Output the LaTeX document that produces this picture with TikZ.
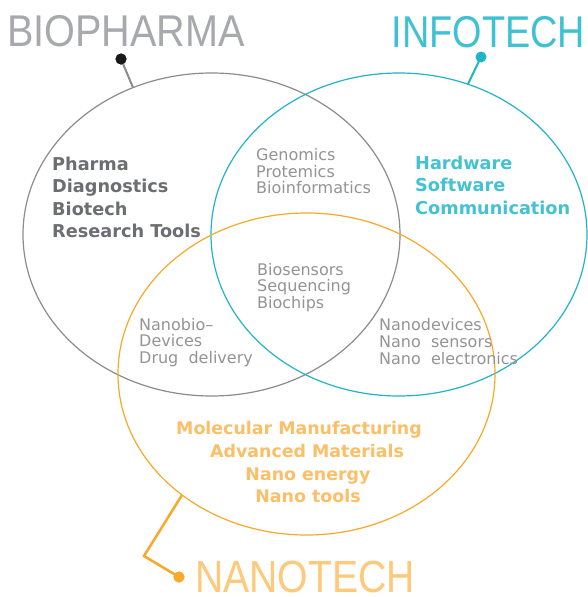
\documentclass[tikz,border=0pt]{standalone}
\usepackage{fontspec}
\usepackage{graphicx}
\setmainfont{DejaVu Sans}
\newfontfamily\titlefont{Liberation Sans}
\definecolor{cgray}{HTML}{8C8C8C}
\definecolor{cteal}{HTML}{1FB5C8}
\definecolor{corange}{HTML}{F7A928}
\definecolor{tdark}{HTML}{6D6E71}
\definecolor{tgray}{HTML}{949494}
\definecolor{tteal}{HTML}{45C2D1}
\definecolor{torange}{HTML}{FBBF68}
\definecolor{ttitlegray}{HTML}{A7A9AC}
\definecolor{ttitleteal}{HTML}{3EC1D3}
\definecolor{ttitleorange}{HTML}{FDC97B}
\tikzset{
  ring/.style={line width=1.2pt},
  boldline/.style={inner sep=0pt, anchor=base west, font=\bfseries\fontsize{17.7}{20}\selectfont},
  thinline/.style={inner sep=0pt, anchor=base west, font=\fontsize{16}{18}\selectfont, text=tgray},
  orangeline/.style={inner sep=0pt, anchor=base, font=\bfseries\fontsize{17.4}{20}\selectfont, text=torange},
  titletext/.style={inner sep=0pt, anchor=base west, font=\titlefont\fontsize{44.5}{50}\selectfont},
  pin/.style={circle, inner sep=0pt, minimum size=11pt},
  pinline/.style={line width=2pt}
}
\begin{document}
\begin{tikzpicture}[x=1pt,y=-1pt]
\useasboundingbox (0,0) rectangle (587,597);
\fill[white] (0,0) rectangle (587,597);
% ellipses
\coordinate (gc) at (211.5,234.5);
\coordinate (tc) at (399,234.5);
\coordinate (oc) at (306.5,374);
\draw[ring, cgray] (gc) ellipse [x radius=188.5, y radius=161.5];
\draw[ring, cteal] (tc) ellipse [x radius=188, y radius=161.5];
\draw[ring, corange] (oc) ellipse [x radius=188.5, y radius=161];
% titles
\node[titletext, text=ttitlegray] (tbio) at (7,46) {\scalebox{0.89}[1]{BIOPHARMA}};
\node[titletext, text=ttitleteal] (tinfo) at (391.5,47) {\scalebox{0.85}[1]{INFOTECH}};
\node[titletext, text=ttitleorange, font=\titlefont\fontsize{45}{50}\selectfont] (tnano) at (195,592) {\scalebox{0.87}[1]{NANOTECH}};
% pins
\coordinate (bioon) at (133,87.5);
\node[pin, fill=black!90] (biodot) at (121,59) {};
\draw[pinline, cgray] (biodot.center) -- (bioon);
\node[pin, fill=black!90] at (biodot) {};
\coordinate (infoon) at (468,84);
\node[pin, fill=cteal] (infodot) at (481,57) {};
\draw[pinline, cteal] (infodot.center) -- (infoon);
\coordinate (nanoon) at (182,495);
\coordinate (nanoelbow) at (144,556);
\node[pin, fill=corange] (nanodot) at (179,577) {};
\draw[pinline, corange, line width=2.5pt, line join=miter] (nanoon) -- (nanoelbow) -- (nanodot.center);
\node[pin, fill=corange] at (nanodot) {};
% biopharma block
\node[boldline, text=tdark] (b1) at (52,170) {Pharma};
\node[boldline, text=tdark] (b2) at (52,192.5) {Diagnostics};
\node[boldline, text=tdark] (b3) at (52,215) {Biotech};
\node[boldline, text=tdark] (b4) at (52,237.5) {Research Tools};
% infotech block
\node[boldline, text=tteal] (i1) at (415,169) {Hardware};
\node[boldline, text=tteal] (i2) at (415,191.5) {Software};
\node[boldline, text=tteal] (i3) at (415,214) {Communication};
% bio-info overlap
\node[thinline] (g1) at (256,160.5) {Genomics};
\node[thinline] (g2) at (256,177) {Protemics};
\node[thinline] (g3) at (256,193.5) {Bioinformatics};
% center
\node[thinline] (c1) at (257,275) {Biosensors};
\node[thinline] (c2) at (257,291.5) {Sequencing};
\node[thinline] (c3) at (257,308) {Biochips};
% bio-nano overlap
\node[thinline] (n1) at (139,330) {Nanobio–};
\node[thinline] (n2) at (139,346.5) {Devices};
\node[thinline] (n3) at (139,363) {Drug\ \ delivery};
% info-nano overlap
\node[thinline] (d1) at (379,330) {Nanodevices};
\node[thinline] (d2) at (379,347) {Nano\ \ sensors};
\node[thinline] (d3) at (379,364) {Nano\ \ electronics};
% nanotech block
\node[orangeline] (o1) at (299,434) {Molecular Manufacturing};
\node[orangeline] (o2) at (307,457) {Advanced Materials};
\node[orangeline] (o3) at (308,480) {Nano energy};
\node[orangeline] (o4) at (308,502.5) {Nano tools};
\end{tikzpicture}
\end{document}
